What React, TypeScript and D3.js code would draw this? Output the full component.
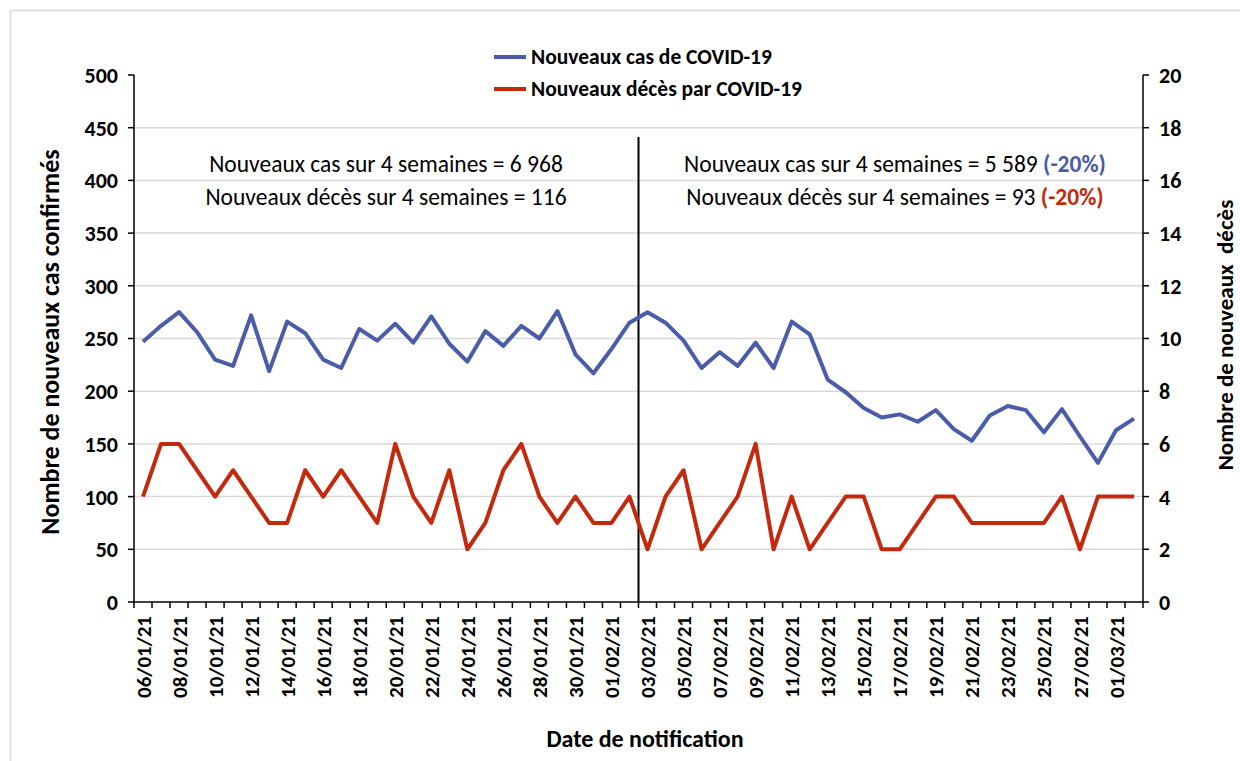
import * as d3 from 'd3';

// Dates (one per day) shown on the category axis
const dates = [
  '06/01/21', '07/01/21', '08/01/21', '09/01/21', '10/01/21', '11/01/21', '12/01/21',
  '13/01/21', '14/01/21', '15/01/21', '16/01/21', '17/01/21', '18/01/21', '19/01/21',
  '20/01/21', '21/01/21', '22/01/21', '23/01/21', '24/01/21', '25/01/21', '26/01/21',
  '27/01/21', '28/01/21', '29/01/21', '30/01/21', '31/01/21', '01/02/21', '02/02/21',
  '03/02/21', '04/02/21', '05/02/21', '06/02/21', '07/02/21', '08/02/21', '09/02/21',
  '10/02/21', '11/02/21', '12/02/21', '13/02/21', '14/02/21', '15/02/21', '16/02/21',
  '17/02/21', '18/02/21', '19/02/21', '20/02/21', '21/02/21', '22/02/21', '23/02/21',
  '24/02/21', '25/02/21', '26/02/21', '27/02/21', '28/02/21', '01/03/21', '02/03/21',
];

// New confirmed cases per day (left axis)
const cases = [
  247, 262, 275, 256, 230, 224, 272, 219, 266, 255, 230, 222, 259, 248,
  264, 246, 271, 245, 228, 257, 243, 262, 250, 276, 235, 217, 240, 265,
  275, 265, 248, 222, 237, 224, 246, 222, 266, 254, 211, 199, 184, 175,
  178, 171, 182, 164, 153, 177, 186, 182, 161, 183, 157, 132, 163, 174,
];

// New deaths per day (right axis)
const deaths = [
  4, 6, 6, 5, 4, 5, 4, 3, 3, 5, 4, 5, 4, 3,
  6, 4, 3, 5, 2, 3, 5, 6, 4, 3, 4, 3, 3, 4,
  2, 4, 5, 2, 3, 4, 6, 2, 4, 2, 3, 4, 4, 2,
  2, 3, 4, 4, 3, 3, 3, 3, 3, 4, 2, 4, 4, 4,
];

const leftTicks = [0, 50, 100, 150, 200, 250, 300, 350, 400, 450, 500];
const rightTicks = [0, 2, 4, 6, 8, 10, 12, 14, 16, 18, 20];

const W = 1240;
const H = 761;
const BLUE = '#4b5ca9';
const RED = '#c4290d';
const FONT = 'Carlito, Calibri, Lato, sans-serif';

export default function App() {
  const x = d3.scaleBand<string>().domain(dates).range([134, 1143]).padding(0);
  const y = d3.scaleLinear().domain([0, 500]).range([602, 75]);
  const yR = d3.scaleLinear().domain([0, 20]).range([602, 75]);
  const cx = (i: number) => (x(dates[i]) as number) + x.bandwidth() / 2;

  const caseLine = d3.line<number>().x((_, i) => cx(i)).y(d => y(d));
  const deathLine = d3.line<number>().x((_, i) => cx(i)).y(d => yR(d));

  const splitX = x(dates[28]) as number;
  const boundaries = dates.map(d => x(d) as number).concat([1143]);

  return (
    <svg width={W} height={H} style={{ position: 'absolute', left: 0, top: 0, background: '#fff' }} fontFamily={FONT}>
      <rect x={10.5} y={10.5} width={W} height={H} fill="none" stroke="#d9d9d9" strokeWidth={1.5} />

      {/* gridlines */}
      {leftTicks.filter(t => t > 0 && t < 500).map(t => (
        <line key={t} x1={134} x2={1143} y1={y(t)} y2={y(t)} stroke="#d9d9d9" strokeWidth={1.5} />
      ))}

      {/* left axis */}
      <line x1={134} x2={134} y1={75} y2={602} stroke="#000" strokeWidth={1.5} />
      {leftTicks.map(t => (
        <g key={t}>
          <line x1={128} x2={134} y1={y(t)} y2={y(t)} stroke="#000" strokeWidth={1.5} />
          <text x={118} y={y(t)} dy="0.36em" textAnchor="end" fontSize={22} fontWeight="bold">{t}</text>
        </g>
      ))}

      {/* right axis */}
      <line x1={1143} x2={1143} y1={75} y2={602} stroke="#000" strokeWidth={1.5} />
      {rightTicks.map(t => (
        <g key={t}>
          <line x1={1143} x2={1149} y1={yR(t)} y2={yR(t)} stroke="#000" strokeWidth={1.5} />
          <text x={1159} y={yR(t)} dy="0.36em" textAnchor="start" fontSize={22} fontWeight="bold">{t}</text>
        </g>
      ))}

      {/* x axis */}
      <line x1={134} x2={1143} y1={602} y2={602} stroke="#000" strokeWidth={1.5} />
      {boundaries.map((b, i) => (
        <line key={i} x1={b} x2={b} y1={602} y2={608} stroke="#000" strokeWidth={1.5} />
      ))}
      {dates.map((d, i) => i % 2 === 0 ? (
        <text key={d} transform={`translate(${cx(i)},616) rotate(-90)`} dy="0.36em" textAnchor="end" fontSize={21} fontWeight="bold">{d}</text>
      ) : null)}

      {/* period split */}
      <line x1={splitX} x2={splitX} y1={137} y2={602} stroke="#000" strokeWidth={2} />

      {/* series */}
      <path d={caseLine(cases) || ''} fill="none" stroke={BLUE} strokeWidth={4} strokeLinejoin="round" />
      <path d={deathLine(deaths) || ''} fill="none" stroke={RED} strokeWidth={4} strokeLinejoin="round" />

      {/* legend */}
      <line x1={494} x2={526} y1={57} y2={57} stroke={BLUE} strokeWidth={4} />
      <text x={531} y={64} fontSize={21.5} fontWeight="bold">Nouveaux cas de COVID-19</text>
      <line x1={494} x2={526} y1={89} y2={89} stroke={RED} strokeWidth={4} />
      <text x={531} y={96} fontSize={21.5} fontWeight="bold">Nouveaux décès par COVID-19</text>

      {/* annotations */}
      <text x={386} y={172} textAnchor="middle" fontSize={23.5}>Nouveaux cas sur 4 semaines = 6 968</text>
      <text x={386} y={205} textAnchor="middle" fontSize={23.5}>Nouveaux décès sur 4 semaines = 116</text>
      <text x={895} y={172} textAnchor="middle" fontSize={23.5}>
        Nouveaux cas sur 4 semaines = 5 589 <tspan fill={BLUE} fontWeight="bold">(-20%)</tspan>
      </text>
      <text x={895} y={205} textAnchor="middle" fontSize={23.5}>
        Nouveaux décès sur 4 semaines = 93 <tspan fill={RED} fontWeight="bold">(-20%)</tspan>
      </text>

      {/* axis titles */}
      <text transform="translate(50,342) rotate(-90)" dy="0.36em" textAnchor="middle" fontSize={26} fontWeight="bold">Nombre de nouveaux cas confirmés</text>
      <text transform="translate(1225,335) rotate(-90)" dy="0.36em" textAnchor="middle" fontSize={23} fontWeight="bold" style={{ whiteSpace: 'pre' }}>Nombre de nouveaux  décès</text>
      <text x={645} y={747} textAnchor="middle" fontSize={24} fontWeight="bold">Date de notification</text>
    </svg>
  );
}
